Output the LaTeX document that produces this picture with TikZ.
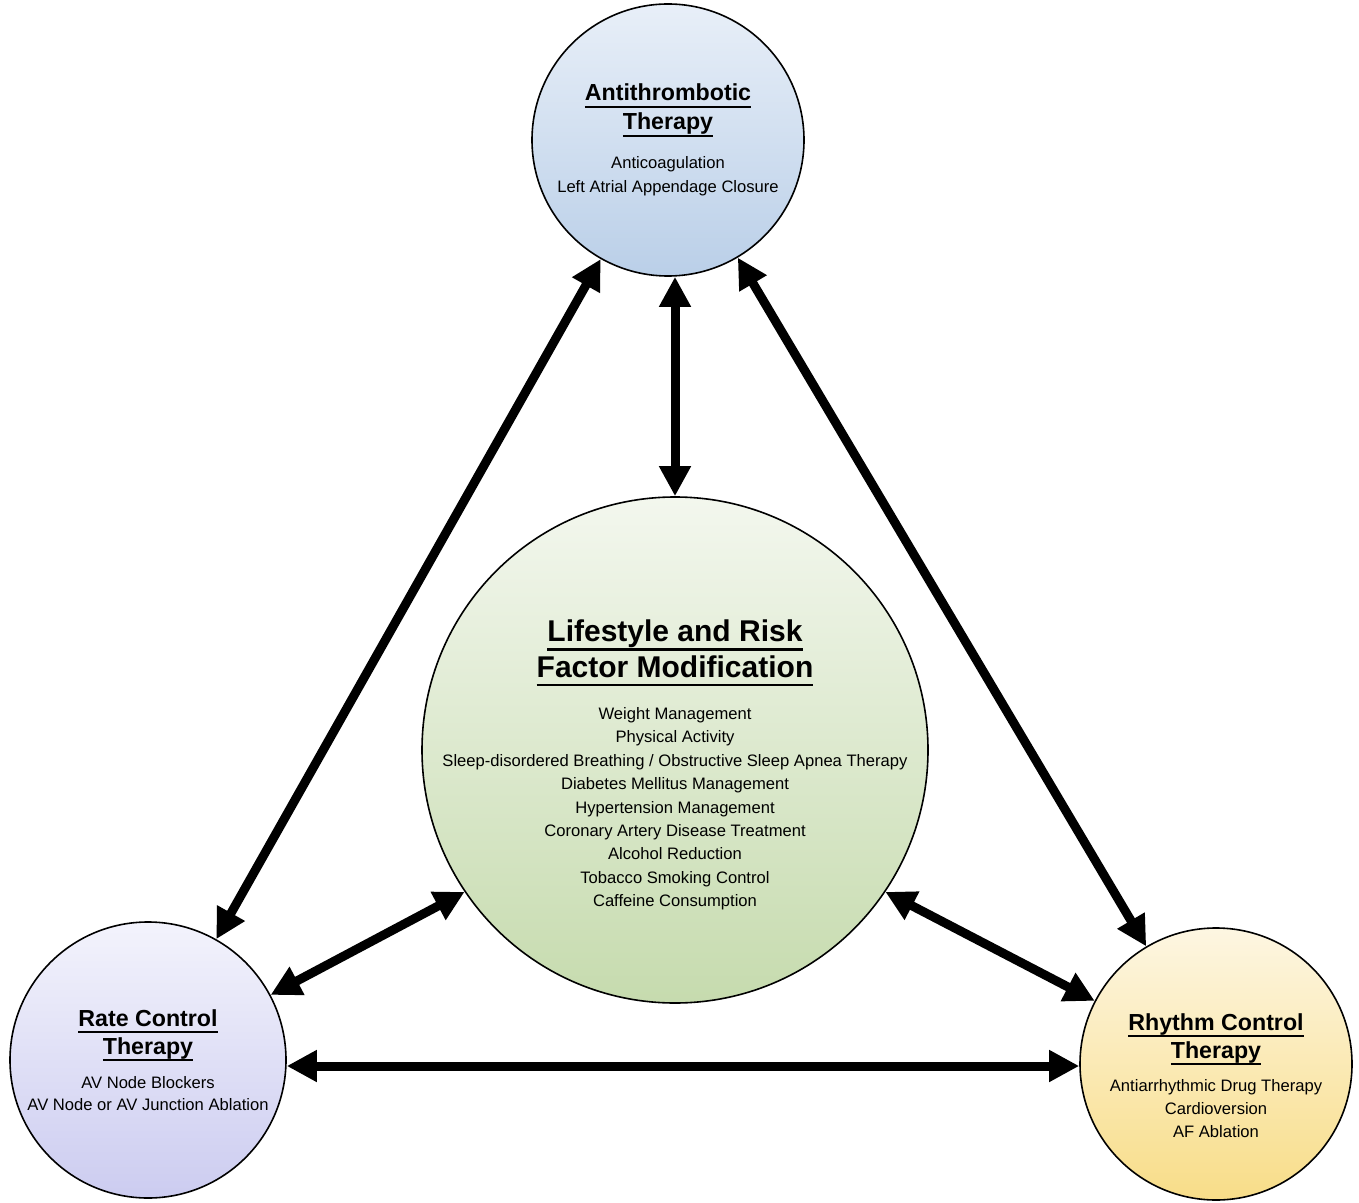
\documentclass[tikz,border=0pt]{standalone}
\usepackage{fontspec}
\setmainfont{Liberation Sans}
\usetikzlibrary{arrows.meta}
\definecolor{antitop}{HTML}{E8EFF8}
\definecolor{antibot}{HTML}{BACFE8}
\definecolor{lifetop}{HTML}{F3F7EE}
\definecolor{lifebot}{HTML}{C6DBAE}
\definecolor{ratetop}{HTML}{F3F3FC}
\definecolor{ratebot}{HTML}{CCCCF0}
\definecolor{rhytop}{HTML}{FDF6E2}
\definecolor{rhybot}{HTML}{F8DD88}
\newcommand{\ttl}[1]{{\fontsize{11.6}{11.7}\selectfont\bfseries
  \setbox0\hbox{#1}\rlap{\smash{\vrule width\wd0 height-2.4pt depth3.4pt}}\box0}}
\newcommand{\bigttl}[1]{{\fontsize{15}{11.7}\selectfont\bfseries
  \setbox0\hbox{#1}\rlap{\smash{\vrule width\wd0 height-3.2pt depth4.4pt}}\box0}}
% invisible strut, pushes the text block down in its circle
\newcommand{\lift}[1]{\rule{0pt}{#1}}
\begin{document}
\begin{tikzpicture}[x=0.5pt, y=-0.5pt,
    every node/.style={circle, draw, line width=0.8pt, inner sep=0pt, align=center,
      font=\fontsize{8.3}{11.7}\selectfont},
    link/.style={>={Triangle[length=15pt,width=15pt]}, <->, line width=4.5pt}]
  \useasboundingbox (0,0) rectangle (1359,1203);
  \node[minimum size=136pt, top color=antitop, bottom color=antibot] (anti) at (668,140)
    {\ttl{Antithrombotic}\\[2.8pt]\ttl{Therapy}\\[7.8pt]
     Anticoagulation\\Left Atrial Appendage Closure};
  \node[minimum size=253pt, inner sep=-40pt, top color=lifetop, bottom color=lifebot]
    (life) at (675,750)
    {\lift{26pt}\bigttl{Lifestyle and Risk}\\[2.9pt]\bigttl{Factor Modification}\\[9.3pt]
     Weight Management\\Physical Activity\\
     Sleep-disordered Breathing / Obstructive Sleep Apnea Therapy\\
     Diabetes Mellitus Management\\Hypertension Management\\
     Coronary Artery Disease Treatment\\Alcohol Reduction\\
     Tobacco Smoking Control\\Caffeine Consumption};
  \node[minimum size=138pt, top color=ratetop, bottom color=ratebot] (rate) at (148,1060)
    {\ttl{Rate Control}\\[2.3pt]\ttl{Therapy}\\[5.3pt]
     AV Node Blockers\\[-0.5pt]AV Node or AV Junction Ablation};
  \node[minimum size=136pt, top color=rhytop, bottom color=rhybot] (rhythm) at (1216,1064)
    {\lift{20pt}\ttl{Rhythm Control}\\[2.3pt]\ttl{Therapy}\\[4.8pt]
     Antiarrhythmic Drug Therapy\\Cardioversion\\AF Ablation};
  \draw[link] (life.north |- anti.south) -- (life.north);
  \draw[link] (anti) -- (rate);
  \draw[link] (anti) -- (rhythm);
  \draw[link] (life.214) -- (rate);
  \draw[link] (life.326) -- (rhythm);
  \draw[link] (rate.east |- 0,1066) -- (rhythm.west |- 0,1066);
\end{tikzpicture}
\end{document}
